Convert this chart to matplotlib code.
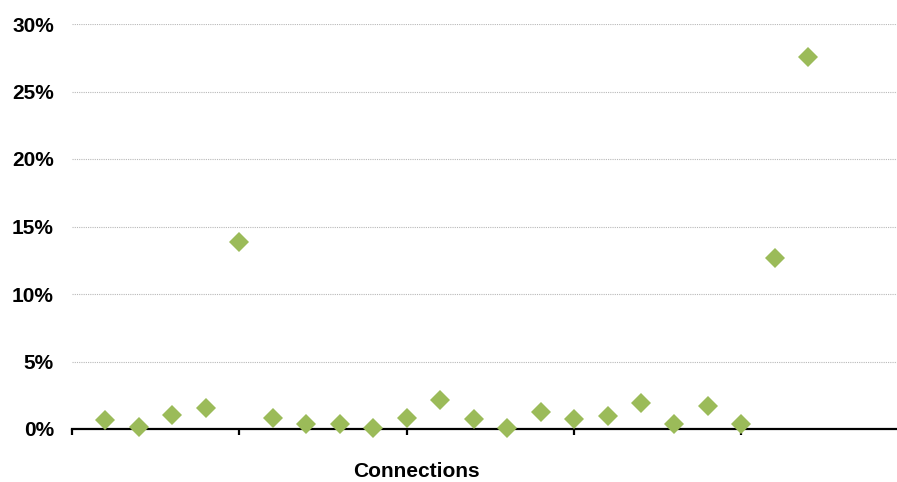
import matplotlib
matplotlib.use('Agg')
import matplotlib.pyplot as plt
from matplotlib.ticker import FuncFormatter

plt.rcParams['font.family'] = ['Liberation Sans', 'DejaVu Sans']

# one point per connection, values in percent
connections = list(range(1, 23))
share = [0.67, 0.17, 1.06, 1.53, 13.85, 0.84, 0.39, 0.35, 0.05, 0.81, 2.15,
         0.74, 0.10, 1.26, 0.74, 0.99, 1.90, 0.35, 1.73, 0.37, 12.64, 27.58]
y_ticks = [0, 5, 10, 15, 20, 25, 30]
x_ticks = [0, 5, 10, 15, 20]

fig = plt.figure(figsize=(8.97, 4.82), dpi=100)
ax = fig.add_axes([72 / 897, 53 / 482, 825 / 897, 405 / 482])

ax.plot(connections, share, linestyle='none', marker='D', markersize=10.6,
        color='#9BBB59', markeredgewidth=0, zorder=3, clip_on=False)

ax.set_xlim(0, 825 / 33.47)
ax.set_ylim(0, 30)
ax.set_yticks(y_ticks)
ax.set_xticks(x_ticks)
ax.set_xticklabels([])
ax.yaxis.set_major_formatter(FuncFormatter(lambda v, p: f"{v:.0f}%"))

ax.grid(axis='y', color='#b8b8b8', linestyle=(0, (1, 1)), linewidth=0.8)
ax.set_axisbelow(True)

for s in ['left', 'right', 'top']:
    ax.spines[s].set_visible(False)
ax.spines['bottom'].set_linewidth(1.6)
ax.spines['bottom'].set_zorder(2)

ax.tick_params(axis='y', length=0, pad=13, labelsize=15)
ax.tick_params(axis='x', direction='out', length=4.5, width=1.6)
for lab in ax.get_yticklabels():
    lab.set_fontweight('bold')

ax.set_xlabel('Connections', fontsize=15, fontweight='bold')
ax.xaxis.set_label_coords(0.418, -0.106)
ax.xaxis.label.set_va('center')

fig.savefig('out.png', dpi=100)
